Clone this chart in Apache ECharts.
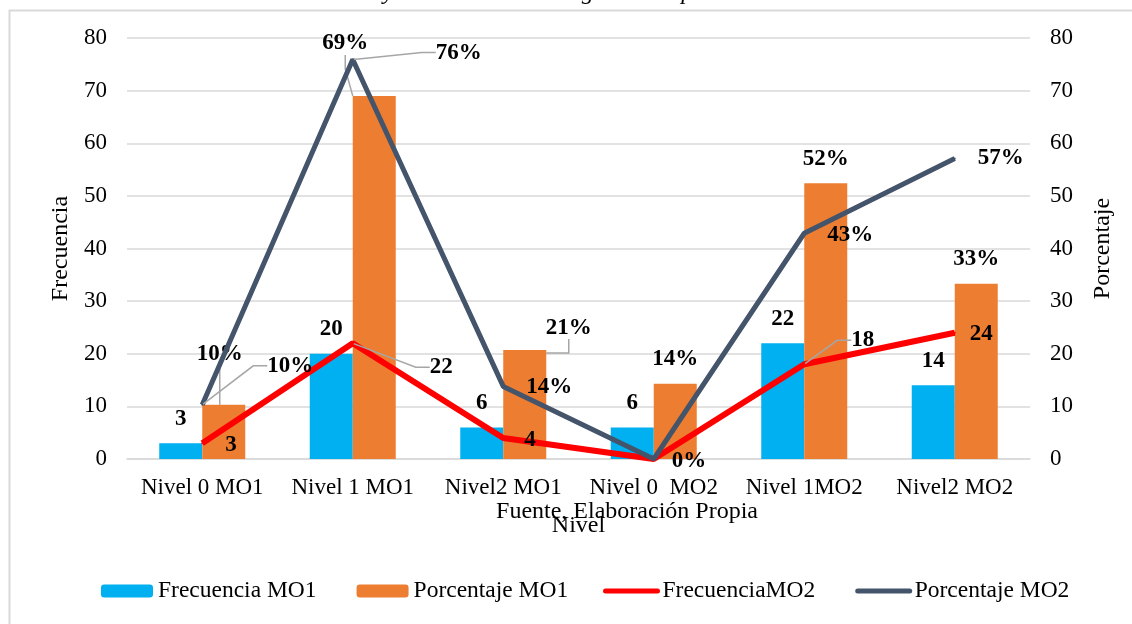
<!DOCTYPE html>
<html>
<head>
<meta charset="utf-8">
<script src="https://cdn.jsdelivr.net/npm/echarts@6/dist/echarts.min.js"></script>
<style>
html,body{margin:0;padding:0;background:#fff;}
#chart{width:1132px;height:624px;}
</style>
</head>
<body>
<div id="chart"></div>
<script>
// ---- data ----
const categories = ["Nivel 0 MO1", "Nivel 1 MO1", "Nivel2 MO1", "Nivel 0  MO2", "Nivel 1MO2", "Nivel2 MO2"];
const frecuenciaMO1 = [3, 20, 6, 6, 22, 14];
const porcentajeMO1 = [10.3, 69.0, 20.7, 14.3, 52.4, 33.3];
const frecuenciaMO2 = [3, 22, 4, 0, 18, 24];
const porcentajeMO2 = [10.3, 75.9, 13.8, 0, 42.9, 57.1];
const yTicks = [0, 80, 10]; // min, max, interval
const titleText = "Resultados del nivel de MO1 y nivel de MO2 Categoría tiempo";
const sourceText = "Fuente, Elaboración Propia";

// ---- styling: label offsets (px) per series, leader-line flags ----
const labelOffsets = {
  1: [[-4, -26], [-29, -28], [44, 2], [0, 0], [0, 0], [0, 0]],
  2: [[8, 2], [62, 24], [6, 2], [0, 0], [32, -24], [0, 1]],
  3: [[42, -39], [60, -7], [0, 1], [-5, 2], [0, 2], [0, 0]]
};
const leaderFlags = {
  1: [true, true, true, false, false, false],
  2: [false, true, false, false, true, false],
  3: [true, true, false, false, false, false]
};
const hiddenLabels = { 2: [false, false, false, true, false, false] };

const FONT = '"Liberation Serif", "Times New Roman", serif';
const labelBase = { show: true, fontFamily: FONT, fontWeight: 'bold', fontSize: 23, color: '#000' };
const leaderLine = { lineStyle: { color: '#a6a6a6', width: 1.5 }, length2: 14 };

function buildData(values, sIdx) {
  return values.map((v, i) => {
    const item = { value: v };
    if (leaderFlags[sIdx] && leaderFlags[sIdx][i]) item.labelLine = { show: true };
    if (hiddenLabels[sIdx] && hiddenLabels[sIdx][i]) item.label = { show: false };
    return item;
  });
}

const chart = echarts.init(document.getElementById('chart'));
const gridColor = '#d9d9d9';

const option = {
  animation: false,
  backgroundColor: '#ffffff',
  textStyle: { fontFamily: FONT },
  graphic: [
    { type: 'rect', z: -10, shape: { x: 9.5, y: 10.5, width: 1200, height: 700 },
      style: { fill: 'none', stroke: '#d9d9d9', lineWidth: 2 } },
    { type: 'text', left: 100, top: -19,
      style: { text: titleText, font: 'italic 24px ' + FONT, fill: '#000' } },
    { type: 'text', x: 627, y: 512,
      style: { text: sourceText, font: '24px ' + FONT, fill: '#000', textAlign: 'center', textVerticalAlign: 'middle' } }
  ],
  grid: { left: 127, right: 102, top: 38, bottom: 165 },
  legend: [
    { data: ['Frecuencia MO1', 'Porcentaje MO1'], left: 101, top: 579, padding: 0,
      itemWidth: 52, itemHeight: 13, itemGap: 40,
      textStyle: { fontFamily: FONT, fontSize: 23.5, color: '#000' } },
    { data: ['FrecuenciaMO2', 'Porcentaje MO2'], left: 603, top: 579, padding: 0,
      itemWidth: 52, itemHeight: 5, itemGap: 40,
      lineStyle: { width: 5, cap: 'round' },
      textStyle: { fontFamily: FONT, fontSize: 23.5, color: '#000' } }
  ],
  xAxis: {
    type: 'category', data: categories,
    name: 'Nivel', nameLocation: 'middle', nameGap: 55,
    nameTextStyle: { fontFamily: FONT, fontSize: 24, color: '#000' },
    axisTick: { show: false },
    axisLine: { show: true, lineStyle: { color: gridColor, width: 1.5 } },
    axisLabel: { interval: 0, margin: 17, fontFamily: FONT, fontSize: 23, color: '#000' }
  },
  yAxis: [
    { type: 'value', min: yTicks[0], max: yTicks[1], interval: yTicks[2],
      name: 'Frecuencia', nameLocation: 'middle', nameGap: 51, nameRotate: 90,
      nameTextStyle: { fontFamily: FONT, fontSize: 24, color: '#000' },
      axisLine: { show: false }, axisTick: { show: false },
      axisLabel: { margin: 20, fontFamily: FONT, fontSize: 23, color: '#000' },
      splitLine: { show: true, lineStyle: { color: gridColor, width: 1.5 } } },
    { type: 'value', min: yTicks[0], max: yTicks[1], interval: yTicks[2],
      name: 'Porcentaje', nameLocation: 'middle', nameGap: 61, nameRotate: 90,
      nameTextStyle: { fontFamily: FONT, fontSize: 24, color: '#000' },
      axisLine: { show: false }, axisTick: { show: false },
      axisLabel: { margin: 20, fontFamily: FONT, fontSize: 23, color: '#000' },
      splitLine: { show: false } }
  ],
  series: [
    { name: 'Frecuencia MO1', type: 'bar', yAxisIndex: 0, data: buildData(frecuenciaMO1, 0),
      barWidth: 43, barGap: '0%', itemStyle: { color: '#00B0F0' },
      label: Object.assign({}, labelBase, { position: 'top', distance: 13 }) },
    { name: 'Porcentaje MO1', type: 'bar', yAxisIndex: 0, data: buildData(porcentajeMO1, 1),
      barWidth: 43, barGap: '0%', itemStyle: { color: '#ED7D31' },
      label: Object.assign({}, labelBase, { position: 'top', distance: 13,
        formatter: p => Math.round(p.value) + '%' }),
      labelLine: leaderLine },
    { name: 'FrecuenciaMO2', type: 'line', yAxisIndex: 0, data: buildData(frecuenciaMO2, 2),
      symbol: 'circle', symbolSize: 2, showSymbol: true,
      lineStyle: { color: '#FF0000', width: 6 }, itemStyle: { color: '#FF0000' },
      label: Object.assign({}, labelBase, { position: 'right', distance: 14 }),
      labelLine: leaderLine, z: 3 },
    { name: 'Porcentaje MO2', type: 'line', yAxisIndex: 1, data: buildData(porcentajeMO2, 3),
      symbol: 'circle', symbolSize: 2, showSymbol: true,
      lineStyle: { color: '#44546A', width: 5 }, itemStyle: { color: '#44546A' },
      label: Object.assign({}, labelBase, { position: 'right', distance: 22,
        formatter: p => Math.round(p.value) + '%' }),
      labelLine: leaderLine, z: 4 }
  ],
  labelLayout: function (params) {
    const offs = labelOffsets[params.seriesIndex];
    if (!offs) return {};
    const o = offs[params.dataIndex];
    return { dx: o[0], dy: o[1] };
  }
};
chart.setOption(option);
</script>
</body>
</html>
